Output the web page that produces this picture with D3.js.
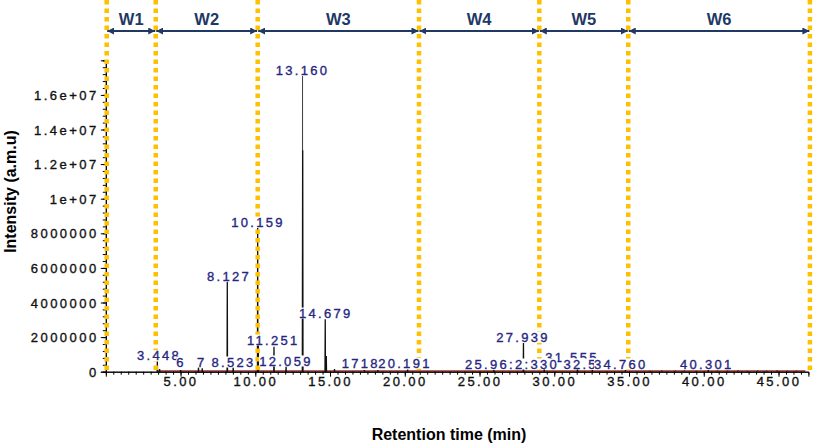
<!DOCTYPE html>
<html><head><meta charset="utf-8">
<script src="https://cdn.jsdelivr.net/npm/d3@7"></script>
<style>body{margin:0;background:#fff}svg{display:block}</style>
</head><body><div id="chart"></div>
<script>
// ---- data ----
const windowNames  = ["W1","W2","W3","W4","W5","W6"];
const windowBounds = [0.06, 3.34, 10.16, 20.95, 29.0, 34.95, 47.1];   // min
const xTickValues  = [5,10,15,20,25,30,35,40,45];
const yTickValues  = [0,2e6,4e6,6e6,8e6,1e7,1.2e7,1.4e7,1.6e7];
const yTickLabels  = ["0","2000000","4000000","6000000","8000000","1e+07","1.2e+07","1.4e+07","1.6e+07"];

const peakTimes   = [3.448, 3.6, 5.0, 6.2, 6.45, 8.127, 8.523, 10.159, 10.2, 11.251, 12.059, 13.160, 13.17, 14.679, 14.75, 15.3, 17.3, 18.2, 20.191, 25.96, 27.939, 29.33, 31.555, 32.55, 34.76, 40.301];
const peakHeights = [6.0e5, 1.5e5, 1.0e5, 2.5e5, 2.0e5, 5.2e6, 2.5e5, 8.31e6, 2.0e6, 1.44e6, 3.0e5, 1.708e7, 1.28e7, 3.03e6, 9.0e5, 1.5e5, 1.0e5, 1.0e5, 1.2e5, 1.0e5, 1.67e6, 2.0e5, 2.0e5, 1.0e5, 1.0e5, 1.0e5];
const noiseTimes  = [36.4, 37.2, 38.1, 38.7, 39.5, 40.9, 41.6, 42.3, 42.9, 43.6, 44.2, 44.9, 45.6, 46.2];
const noiseHeights= [6e4, 8e4, 7e4, 9e4, 6e4, 8e4, 7e4, 9e4, 6e4, 8e4, 7e4, 9e4, 6e4, 7e4];

// peak annotations (visible text, position in minutes / intensity)
const labelTexts   = ["13.160","10.159","8.127","14.679","27.939","11.251","31.555","3.448","6","7","8.523","12.059","1718","20.191","25.96:2:330","32.5","34.760","40.301"];
const labelTimes   = [13.16, 10.18, 8.24, 14.71, 27.91, 11.2, 31.18, 3.56, 4.72, 6.10, 8.54, 12.05, 15.78, 20.01, 24.03, 30.61, 34.45, 40.2];
const labelLevels  = [1.741e7, 8.65e6, 5.53e6, 3.39e6, 1.99e6, 1.83e6, 8.5e5, 9.25e5, 5.6e5, 5.6e5, 5.6e5, 6.2e5, 4.9e5, 4.9e5, 4.45e5, 4.45e5, 4.45e5, 4.45e5];
const labelAnchors = ["middle","middle","middle","middle","middle","middle","middle","middle","start","start","middle","middle","start","middle","start","start","middle","middle"];

// ---- drawing ----
const W = 813, H = 447;
const font = "'Liberation Sans', Arial, Helvetica, sans-serif";
const svg = d3.select("#chart").append("svg").attr("width", W).attr("height", H);

const x = d3.scaleLinear().domain([0, 47]).range([105.8, 808.4]);
const y = d3.scaleLinear().domain([0, 1.8e7]).range([371.7, 60.3]);

// baseline trace (red)
svg.append("path")
  .attr("d", d3.line().x(d => x(d[0])).y(d => y(d[1]))([[3.5, 4e4], [46.8, 4e4]]))
  .attr("stroke", "#a3302a").attr("stroke-width", 1.3).attr("fill", "none");

// peaks
const peakLine = d3.line().x(d => x(d[0])).y(d => y(d[1]));
const peaks = peakTimes.map((t, i) => [t, peakHeights[i]]);
svg.append("g").selectAll("path").data(peaks).join("path")
  .attr("d", d => peakLine([[d[0] - 0.015, 0], [d[0], d[1]], [d[0] + 0.015, 0]]))
  .attr("stroke", d => d[1] > 1.5e7 ? "#444" : "#111")
  .attr("stroke-width", d => d[1] > 1.5e7 ? 1 : 1.3).attr("fill", "none");
const noise = noiseTimes.map((t, i) => [t, noiseHeights[i]]);
svg.append("g").selectAll("path").data(noise).join("path")
  .attr("d", d => peakLine([[d[0] - 0.05, 0], [d[0], d[1]], [d[0] + 0.05, 0]]))
  .attr("stroke", "#333").attr("stroke-width", 0.8).attr("fill", "none");

// axes
const xAxisG = svg.append("g").attr("transform", `translate(0,${y(0)})`);
xAxisG.call(d3.axisBottom(x).tickValues(d3.range(0.5, 47, 0.5)).tickSize(3).tickFormat(""));
xAxisG.append("g").call(d3.axisBottom(x).tickValues(xTickValues).tickSize(5).tickFormat(d3.format(".2f")));
xAxisG.selectAll(".domain").attr("stroke", "#000");
xAxisG.selectAll("text").attr("font-family", font).attr("font-size", 13)
  .attr("letter-spacing", "2.4px").attr("fill", "#111").attr("stroke", "#111").attr("stroke-width", 0.35)
  .attr("dy", null).attr("y", 14.6);

const yAxisG = svg.append("g").attr("transform", `translate(${x(0)},0)`);
yAxisG.call(d3.axisLeft(y).tickValues(d3.range(0, 1.8e7 + 1, 4e5)).tickSize(3).tickFormat(""));
yAxisG.append("g").call(d3.axisLeft(y).tickValues(yTickValues).tickSize(5).tickFormat((d, i) => yTickLabels[i]));
yAxisG.selectAll("text").attr("font-family", font).attr("font-size", 13)
  .attr("letter-spacing", "2.5px").attr("fill", "#111").attr("stroke", "#111").attr("stroke-width", 0.35)
  .attr("dy", "0.36em").attr("x", -7);

// window boundaries (dotted orange)
svg.append("g").selectAll("line").data(windowBounds).join("line")
  .attr("x1", d => x(d)).attr("x2", d => x(d)).attr("y1", 0).attr("y2", y(0) - 1)
  .attr("stroke", "#ffc000").attr("stroke-width", 4.5).attr("stroke-dasharray", "4.5,4");

// arrows
const defs = svg.append("defs");
defs.append("marker").attr("id", "ah").attr("viewBox", "0 0 10 10").attr("refX", 10).attr("refY", 5)
  .attr("markerWidth", 7).attr("markerHeight", 7).attr("markerUnits", "userSpaceOnUse").attr("orient", "auto-start-reverse")
  .append("path").attr("d", "M0,0 L10,5 L0,10 z").attr("fill", "#1f3864");
const arrowY = 31;
const segs = windowNames.map((n, i) => [windowBounds[i], windowBounds[i + 1], n]);
svg.append("g").selectAll("line").data(segs).join("line")
  .attr("x1", d => x(d[0]) + 0.5).attr("x2", d => x(d[1]) - 0.5)
  .attr("y1", arrowY).attr("y2", arrowY)
  .attr("stroke", "#1f3864").attr("stroke-width", 2)
  .attr("marker-start", "url(#ah)").attr("marker-end", "url(#ah)");
svg.append("g").selectAll("text").data(segs).join("text")
  .attr("x", d => (x(d[0]) + x(d[1])) / 2).attr("y", 25)
  .attr("text-anchor", "middle").attr("font-family", font).attr("font-weight", "bold")
  .attr("font-size", 16.5).attr("fill", "#1f3864").text(d => d[2]);

// peak labels with white backgrounds
const lg = svg.append("g");
labelTexts.forEach((t, i) => {
  const g = lg.append("g");
  const cy = y(labelLevels[i]);
  const txt = g.append("text")
    .attr("x", x(labelTimes[i])).attr("y", cy + 4.6)
    .attr("text-anchor", labelAnchors[i]).attr("font-family", font).attr("font-size", 13)
    .attr("letter-spacing", "2.3px").attr("fill", "#26267f").attr("stroke", "#26267f").attr("stroke-width", 0.35)
    .text(t);
  const bb = txt.node().getBBox();
  g.insert("rect", "text").attr("x", bb.x).attr("y", cy - 5.5).attr("width", bb.width - 1.5).attr("height", 11).attr("fill", "#fff");
});

// axis titles
svg.append("text").attr("transform", `translate(15.5,${191.5}) rotate(-90)`)
  .attr("text-anchor", "middle").attr("font-family", font).attr("font-weight", "bold")
  .attr("font-size", 16).attr("fill", "#000").text("Intensity (a.m.u)");
svg.append("text").attr("x", 449).attr("y", 439.8)
  .attr("text-anchor", "middle").attr("font-family", font).attr("font-weight", "bold")
  .attr("font-size", 16).attr("fill", "#000").text("Retention time (min)");
</script></body></html>
